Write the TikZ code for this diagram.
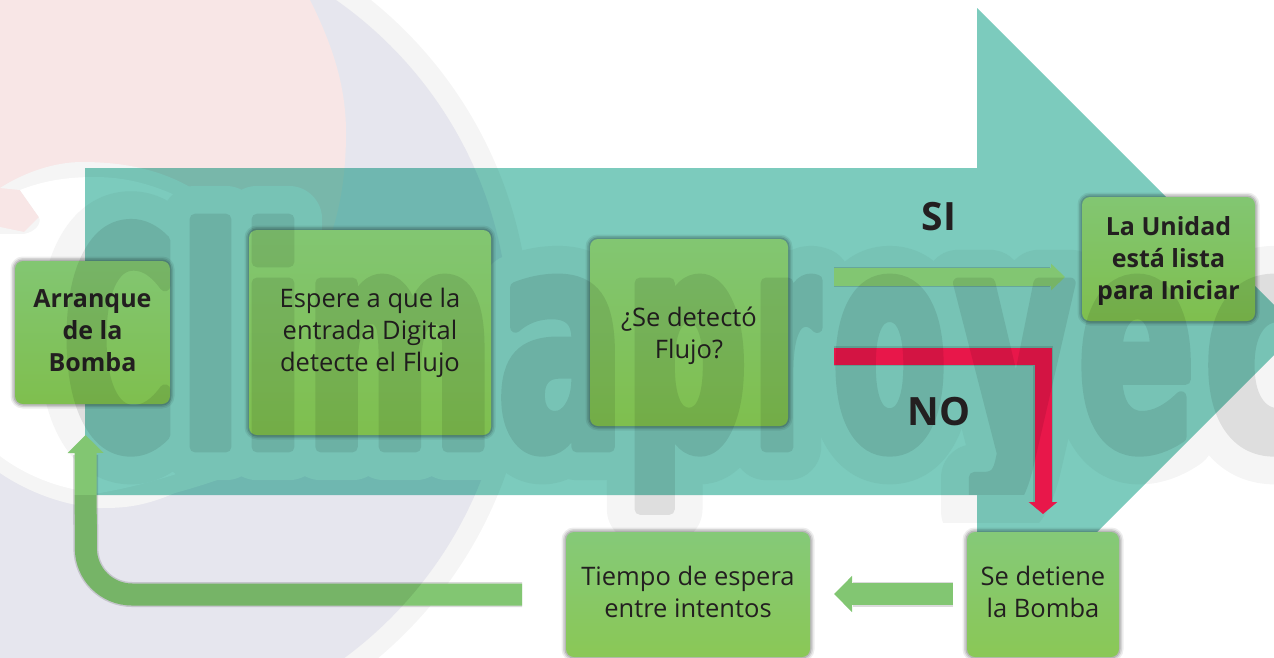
\documentclass[tikz,border=0pt]{standalone}
\usepackage{fontspec}
\setmainfont{Open Sans}
\usetikzlibrary{arrows.meta}
\definecolor{tealbg}{HTML}{7CCBBD}
\definecolor{halo}{HTML}{F5F5F5}
\definecolor{bluelogo}{HTML}{E6E6EE}
\definecolor{pinklogo}{HTML}{F8E6E6}
\definecolor{gtop}{HTML}{82C672}
\definecolor{gbot}{HTML}{7FBF4E}
\definecolor{gtopb}{HTML}{85C978}
\definecolor{gbotb}{HTML}{8AC856}
\definecolor{garrow}{HTML}{82C672}
\definecolor{redarrow}{HTML}{E8174A}
\definecolor{ink}{HTML}{231F20}
% one watermark letter: left edge, stretch, left bearing (em), letter; bold amount in \wmbold
\newcommand{\wmL}[4]{%
  \pgfmathsetmacro{\wmx}{#1+7-#3*300*#2}%
  \node[anchor=base west,inner sep=0pt,outer sep=0pt,text=\wmcol] at (\wmx,447)
    {\special{pdf:code 1 j 1 J}\fontspec{DejaVu Sans Bold}[FakeStretch=#2,FakeBold=\wmbold]\fontsize{300}{300}\selectfont #4};}
\newcommand{\wmWord}{%
  \wmL{65}{.50}{.05}{C}
  \wmL{188}{.59}{.084}{l}
  \wmL{250}{.61}{.084}{i}
  \wmL{313}{.60}{.079}{m}
  \wmL{500}{.62}{.045}{a}
  \wmL{633}{.56}{.084}{p}
  \wmL{759}{.42}{.084}{r}
  \wmL{835}{.54}{.05}{o}
  \begin{scope}
  \clip (900,0) rectangle (1120,\wmyb);
  \wmL{951}{.60}{.01}{y}
  \end{scope}
  \wmL{1081}{.56}{.05}{e}
  \wmL{1208}{.65}{.05}{c}}
\newcommand{\dn}[1]{\rule{0pt}{#1pt}}
\newcommand{\up}[1]{\rule[-#1pt]{0pt}{0pt}}
\tikzset{
  boxbase/.style={rectangle,rounded corners=8pt,inner sep=0pt,align=center,text=ink,
    font=\fontsize{25.5}{32}\selectfont,
    preaction={draw=black,draw opacity=.07,line width=9pt,xshift=1pt,yshift=-1pt},
    preaction={draw=black,draw opacity=.10,line width=6pt,xshift=1pt,yshift=-1pt},
    preaction={draw=black,draw opacity=.14,line width=3pt,xshift=1pt,yshift=-1pt}},
  boxa/.style={boxbase,top color=gtop,bottom color=gbot},
  boxb/.style={boxbase,top color=gtopb,bottom color=gbotb},
  bold/.style={font=\fontsize{25}{32}\selectfont\bfseries},
  label/.style={text=ink,font=\fontsize{39}{40}\selectfont\bfseries,inner sep=0pt},
  blockshadow/.style={draw=black,draw opacity=.14,line width=#1},
  blockg/.style={draw=garrow,line width=#1},
  blockr/.style={draw=redarrow,line width=17pt}
}
\begin{document}
\begin{tikzpicture}[x=1pt,y=-1pt]
\useasboundingbox (0,0) rectangle (1274,657);
\clip (0,0) rectangle (1274,657);
% logo
\fill[halo] (104,332) circle[radius=426pt];
\fill[bluelogo] (104,332) circle[radius=405pt];
\fill[pinklogo] (0,0) -- (310,0) .. controls (335,50) and (346,90) .. (346,133)
  .. controls (346,180) and (338,220) .. (326,246) -- (200,320) -- (0,240) -- cycle;
\fill[halo] (0,188) .. controls (25,172) and (55,162) .. (82,162)
  .. controls (125,162) and (160,170) .. (190,187) -- (420,300)
  .. controls (380,420) and (260,470) .. (175,493) .. controls (140,508) and (120,508) .. (98,508)
  .. controls (60,505) and (25,490) .. (0,473) -- (0,227) -- (24,232) -- (39,217) -- (20,190) -- cycle;
\fill[pinklogo] (0,190) -- (25,218) -- (0,215) -- cycle;
\fill[white] (20,190) .. controls (45,180) and (70,177) .. (95,177)
  .. controls (125,177) and (150,184) .. (175,195) -- (400,300)
  .. controls (360,400) and (230,470) .. (100,493)
  .. controls (60,490) and (25,475) .. (0,456) -- (0,234) -- (24,234)
  .. controls (35,232) and (42,224) .. (39,217) -- cycle;
% halo of the lettering
\def\wmcol{halo}\def\wmbold{22}\def\wmyb{522}
\wmWord
% large teal arrow
\begin{scope}[blend mode=multiply]
\fill[tealbg] (85,168) -- (977,168) -- (977,8) -- (1299,330) -- (977,652) -- (977,495) -- (85,495) -- cycle;
\end{scope}
% boxes
\node[boxa,bold,minimum width=155pt,minimum height=143pt] (arranque) at (92.5,332.5) {Arranque\\de la\\Bomba\up{3}};
\node[boxa,minimum width=242pt,minimum height=205pt] (espere) at (370,332.5) {\dn{21}Espere a que la\\entrada Digital\\detecte el Flujo};
\node[boxa,minimum width=198pt,minimum height=187pt] (detecto) at (689,332.5) {\dn{26}¿Se detectó\\Flujo?};
\node[boxa,bold,minimum width=173pt,minimum height=124pt] (unidad) at (1168.5,259) {\dn{23}La Unidad\\está lista\\para Iniciar};
\node[boxb,minimum width=244pt,minimum height=125pt] (tiempo) at (688,594.5) {Tiempo de espera\\entre intentos\up{6}};
\node[boxb,minimum width=152pt,minimum height=125pt] (detiene) at (1043,594.5) {Se detiene\\la Bomba\up{6}};
% connector end points
\coordinate (siA) at (834,277);
\coordinate (siB) at (1065,277);
\coordinate (noA) at (834,356);
\coordinate (noC) at (1043,356);
\coordinate (noB) at (1043,514);
\coordinate (esA) at (953,594);
\coordinate (esB) at (834,594);
\coordinate (reA) at (522,594.5);
\coordinate (reC) at (86,594.5);
\coordinate (reB) at (85.5,435);
\coordinate (reD) at (85.5,455);
% connectors
\draw[blockshadow=20pt] (siA) -- ++(216,0);
\draw[blockg=18pt,-{Triangle[width=26pt,length=14pt]}] (siA) -- (siB);
\draw[blockshadow=25pt,rounded corners=46pt] (reA) -- (reC) -- (reD);
\draw[blockg=22pt,-{Triangle[width=35pt,length=18pt]},rounded corners=46pt] (reA) -- (reC) -- (reB);
\begin{scope}
\clip (104,332) circle[radius=405pt];
\clip (0,495) rectangle (600,657);
\draw[draw=black,draw opacity=.09,line width=22pt,rounded corners=46pt] (reA) -- (reC) -- (reD);
\end{scope}
\draw[blockshadow=25pt] (esA) -- ++(-100,0);
\draw[blockg=22pt,-{Triangle[width=35pt,length=18pt]}] (esA) -- (esB);
\draw[draw=black,draw opacity=.12,line width=20pt] (noA) -- (noC) -- ++(0,146);
\draw[blockr,-{Triangle[width=28pt,length=12pt]}] (noA) -- (noC) -- (noB);
% lettering
\def\wmcol{black}\def\wmbold{3.6}\def\wmyb{494}
\begin{scope}[transparency group,opacity=.09]
\wmWord
\end{scope}
% texts
\node[label] (si) at (939,217) {SI};
\node[label] (no) at (939,412) {NO};
\end{tikzpicture}
\end{document}
